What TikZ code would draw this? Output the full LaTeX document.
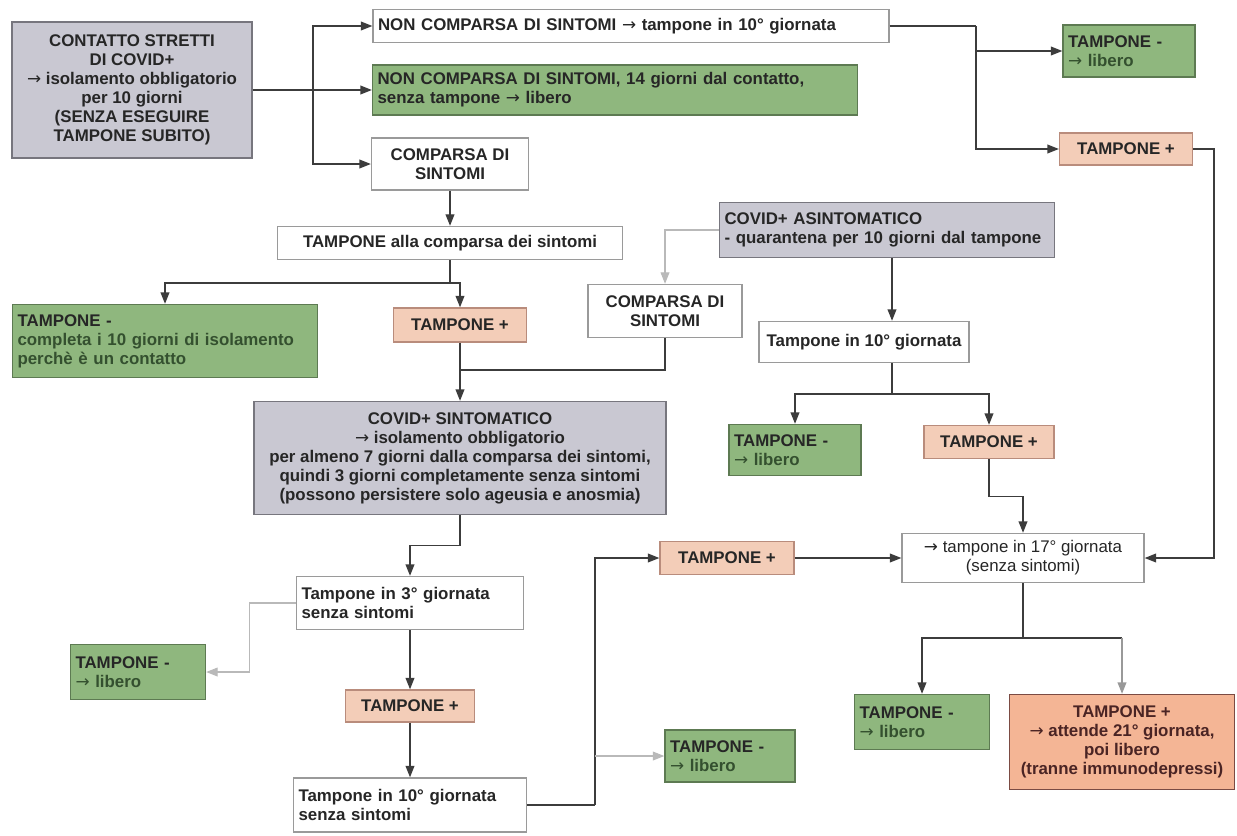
\documentclass[tikz,border=0pt]{standalone}
\usepackage{fontspec}
\setmainfont{Liberation Sans}
\newfontfamily\arrfont{DejaVu Sans}
\usepackage{xcolor}
\usetikzlibrary{arrows.meta, calc}

\newcommand{\arr}{{\arrfont\mdseries →}}

\definecolor{txt}{HTML}{262626}
\definecolor{greyfill}{HTML}{C9C8D2}
\definecolor{greyline}{HTML}{77767E}
\definecolor{greenfill}{HTML}{8FB77E}
\definecolor{greenline}{HTML}{5D7A52}
\definecolor{greentxt}{HTML}{34502F}
\definecolor{posfill}{HTML}{F3CDB8}
\definecolor{posline}{HTML}{B98C7C}
\definecolor{bigfill}{HTML}{F4B595}
\definecolor{bigline}{HTML}{7B4B43}
\definecolor{bigtxt}{HTML}{4A2424}
\definecolor{whiteline}{HTML}{9A9A9A}
\definecolor{conn}{HTML}{3C3C3C}

\tikzset{
  box/.style={line width=0.8pt, text=txt, inner xsep=0.15cm, inner ysep=0.05cm,
    font=\bfseries\fontsize{9.6}{10.8}\selectfont},
  leftbox/.style={align=left, inner xsep=0.1cm},
  greybox/.style={box, fill=greyfill, draw=greyline, align=center},
  greenbox/.style={box, fill=greenfill, draw=greenline, leftbox},
  posbox/.style={box, fill=posfill, draw=posline, align=center},
  bigbox/.style={box, fill=bigfill, draw=bigline, text=bigtxt, align=center},
  whitebox/.style={box, fill=white, draw=whiteline, align=center},
  line/.style={draw=conn, line width=0.7pt},
  link/.style={line, -{Triangle[length=6.5pt,width=5pt]}},
  faintlink/.style={draw=gray!55, line width=0.6pt, -{Triangle[length=6.5pt,width=5pt]}},
  greylink/.style={draw=gray!80, line width=0.7pt, -{Triangle[length=6.5pt,width=5pt,fill=gray!80]}}
}

\begin{document}
\begin{tikzpicture}[x=0.02cm, y=-0.02cm]
\useasboundingbox (0,0) rectangle (1237,835);

% Contatto stretto
\node[greybox, minimum width=4.8cm, minimum height=2.72cm] (contact) at (132,90)
  {CONTATTO STRETTI\\DI COVID+\\\arr{} isolamento obbligatorio\\per 10 giorni\\(SENZA ESEGUIRE\\TAMPONE SUBITO)};

% Prime tre strade
\node[whitebox, leftbox, text width=10.12cm, minimum height=0.66cm] (nonsint10) at (631,26)
  {NON COMPARSA DI SINTOMI \arr{} tampone in 10° giornata};
\node[greenbox, text width=9.5cm, minimum height=1cm] (nonsint14) at (615,90)
  {NON COMPARSA DI SINTOMI, 14 giorni dal contatto,\\senza tampone \arr{} libero};
\node[whitebox, minimum width=3.14cm, minimum height=1.04cm] (comparsa1) at (450,164)
  {COMPARSA DI\\SINTOMI};

% Esito tampone in 10a giornata
\node[greenbox, text width=2.44cm, minimum height=1.04cm] (tnegTR) at (1129,51)
  {TAMPONE -\\{\color{greentxt}\arr{} libero}};
\node[posbox, minimum width=2.66cm, minimum height=0.64cm] (tposTR) at (1126,149) {TAMPONE +};

% Tampone alla comparsa dei sintomi
\node[whitebox, minimum width=6.9cm, minimum height=0.66cm] (tallacomp) at (450,243)
  {TAMPONE alla comparsa dei sintomi};
\node[greenbox, text width=5.9cm, minimum height=1.46cm] (tnegML) at (165,341)
  {TAMPONE -\\{\color{greentxt}completa i 10 giorni di isolamento\\perchè è un contatto}};
\node[posbox, minimum width=2.66cm, minimum height=0.68cm] (tposML) at (460,325) {TAMPONE +};

% Asintomatico
\node[greybox, leftbox, text width=6.5cm, minimum height=1.1cm] (asint) at (887,230)
  {COVID+ ASINTOMATICO\\- quarantena per 10 giorni dal tampone};
\node[whitebox, minimum width=3.08cm, minimum height=1.06cm] (comparsa2) at (665,311)
  {COMPARSA DI\\SINTOMI};
\node[whitebox, minimum width=3.64cm, minimum height=0.82cm] (tampone10b) at (864,342)
  {Tampone in 10° giornata};
\node[greenbox, text width=2.44cm, minimum height=1.02cm] (tnegMR) at (795,450)
  {TAMPONE -\\{\color{greentxt}\arr{} libero}};
\node[posbox, minimum width=2.6cm, minimum height=0.66cm] (tposMR) at (989,442) {TAMPONE +};

% Sintomatico
\node[greybox, minimum width=8.24cm, minimum height=2.26cm] (sint) at (460,458)
  {COVID+ SINTOMATICO\\\arr{} isolamento obbligatorio\\per almeno 7 giorni dalla comparsa dei sintomi,\\quindi 3 giorni completamente senza sintomi\\(possono persistere solo ageusia e anosmia)};
\node[whitebox, leftbox, text width=4.34cm, minimum height=1.06cm] (tampone3) at (410,603)
  {Tampone in 3° giornata\\senza sintomi};
\node[greenbox, text width=2.5cm, minimum height=1.1cm] (tnegBL) at (138,672)
  {TAMPONE -\\{\color{greentxt}\arr{} libero}};
\node[posbox, minimum width=2.58cm, minimum height=0.64cm] (tposBL) at (410,706) {TAMPONE +};
\node[whitebox, leftbox, text width=4.46cm, minimum height=1.08cm] (tampone10c) at (410,805)
  {Tampone in 10° giornata\\senza sintomi};
\node[posbox, minimum width=2.68cm, minimum height=0.66cm] (tposBM) at (727,558) {TAMPONE +};
\node[greenbox, text width=2.4cm, minimum height=1.04cm] (tnegBM) at (730,756)
  {TAMPONE -\\{\color{greentxt}\arr{} libero}};

% Tampone in 17a giornata
\node[whitebox, font=\mdseries\fontsize{9.6}{10.8}\selectfont, minimum width=4.84cm, minimum height=0.98cm] (tampone17) at (1023,558)
  {\arr{} tampone in 17° giornata\\(senza sintomi)};
\node[greenbox, text width=2.5cm, minimum height=1.1cm] (tnegBR) at (922,722)
  {TAMPONE -\\{\color{greentxt}\arr{} libero}};
\node[bigbox, minimum width=4.5cm, minimum height=1.9cm] (tposBR) at (1122,742)
  {TAMPONE +\\\arr{} attende 21° giornata,\\poi libero\\(tranne immunodepressi)};

% Connectors
\coordinate (s1) at (313,90);
\draw[line] (contact) -- (s1);
\draw[link] (s1) |- (nonsint10);
\draw[link] (s1) -- (nonsint14);
\draw[link] (s1) |- (comparsa1);

\coordinate (s2) at (976,26);
\draw[line] (nonsint10) -- (s2);
\draw[link] (s2) |- (tposTR);
\draw[link] (s2 |- tnegTR) -- (tnegTR);
\coordinate (r1) at (1214,149);
\draw[link] (tposTR) -- (r1) |- (tampone17);

\draw[link] (comparsa1) -- (tallacomp);
\coordinate (s3) at (450,283);
\draw[line] (tallacomp) -- (s3);
\draw[link] (s3) -| (tnegML);
\draw[link] (s3) -| (tposML);
\draw[link] (tposML) -- (sint);
\coordinate (j1) at (460,370);
\draw[line] (comparsa2) |- (j1);

\draw[faintlink] (asint.west) -| (comparsa2);
\draw[link] ($(asint.south)+(5,0)$) -- ($(tampone10b.north)+(28,0)$);
\coordinate (s4) at (892,394);
\draw[line] ($(tampone10b.south)+(28,0)$) -- (s4);
\draw[link] (s4) -| (tnegMR);
\draw[link] (s4) -| (tposMR);
\draw[link] (tposMR.south) -- ++(0,37) -| (tampone17.north);

\draw[link] (sint.south) -- ++(0,30) -| (tampone3);
\draw[faintlink] (tampone3.west) -- ++(-46,0) |- (tnegBL);
\draw[link] (tampone3) -- (tposBL);
\draw[link] (tposBL) -- (tampone10c);

\coordinate (s5) at (595,805);
\draw[line] (tampone10c) -- (s5);
\draw[link] (s5) |- (tposBM);
\draw[faintlink] (s5 |- tnegBM) -- (tnegBM);
\draw[link] (tposBM) -- (tampone17);

\coordinate (s6) at (1023,638);
\draw[line] (tampone17) -- (s6);
\draw[link] (s6) -| (tnegBR);
\draw[line] (s6) -- (s6 -| tposBR);
\draw[greylink] (s6 -| tposBR) -- (tposBR);
\end{tikzpicture}
\end{document}
